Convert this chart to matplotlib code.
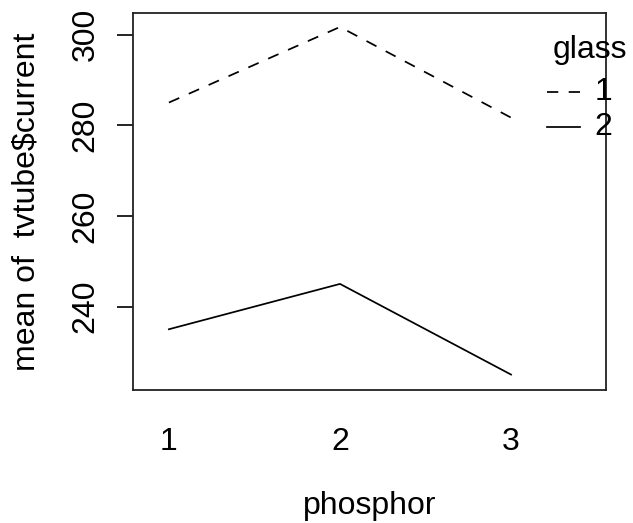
import matplotlib
matplotlib.use('Agg')
import matplotlib.pyplot as plt
from matplotlib.lines import Line2D

# Cell means of tube current by phosphor type and glass type
phosphor = [1, 2, 3]
glass_levels = ['1', '2']
mean_glass1 = [285.0, 301.67, 281.67]
mean_glass2 = [235.0, 245.0, 225.0]

plt.rcParams.update({
    'font.family': ['Liberation Sans', 'DejaVu Sans'],
    'font.size': 23,
})

fig = plt.figure(figsize=(6.33, 5.23), dpi=100)
ax = fig.add_axes([133 / 633, 1 - 390 / 523, 473 / 633, 377 / 523])

lw = 1.25
dash = (0, (6.5, 6))
ax.plot(phosphor, mean_glass1, color='black', lw=lw, linestyle=dash)
ax.plot(phosphor, mean_glass2, color='black', lw=lw, linestyle='-')

ax.set_xlim(0.79, 3.555)
ax.set_ylim(221.6, 304.75)
ax.set_xticks(phosphor)
ax.set_xticklabels([str(v) for v in phosphor])
ax.set_yticks([240, 260, 280, 300])
ax.tick_params(axis='x', length=0, pad=27)
ax.tick_params(axis='y', length=11.5, width=1.2, direction='out', pad=12)
for lab in ax.get_yticklabels():
    lab.set_rotation(90)
    lab.set_va('center')

for s in ax.spines.values():
    s.set_linewidth(1.3)
    s.set_color('#222222')

ax.set_xlabel('phosphor', labelpad=24)
ax.set_ylabel('mean of  tvtube\\$current', labelpad=21)

# legend drawn by hand so it can run past the plot box
ax.text(0.888, 0.902, 'glass', transform=ax.transAxes, ha='left',
        va='center', clip_on=False)
for (y, ls), name in zip([(0.790, dash), (0.698, '-')], glass_levels):
    ax.add_line(Line2D([0.875, 0.945], [y, y], transform=ax.transAxes,
                       color='black', lw=lw, linestyle=ls, clip_on=False))
    ax.text(0.975, y, name, transform=ax.transAxes, ha='left', va='center',
            clip_on=False)

fig.savefig('out.png', dpi=100)
